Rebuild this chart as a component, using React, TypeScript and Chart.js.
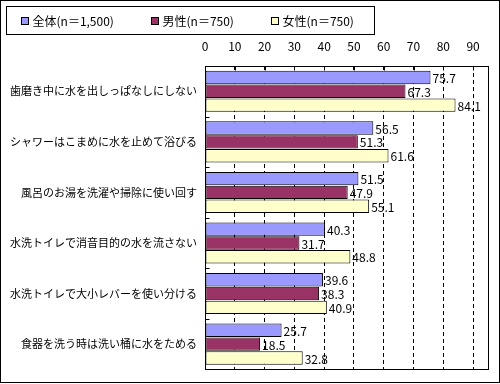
import React, { useEffect, useRef } from "react";
import { Chart, registerables } from "chart.js";
Chart.register(...registerables);

const categories = [
  "歯磨き中に水を出しっぱなしにしない",
  "シャワーはこまめに水を止めて浴びる",
  "風呂のお湯を洗濯や掃除に使い回す",
  "水洗トイレで消音目的の水を流さない",
  "水洗トイレで大小レバーを使い分ける",
  "食器を洗う時は洗い桶に水をためる",
];
const seriesLabels = ["全体(n＝1,500)", "男性(n＝750)", "女性(n＝750)"];
const totalValues = [75.7, 56.5, 51.5, 40.3, 39.6, 25.7];
const maleValues = [67.3, 51.3, 47.9, 31.7, 38.3, 18.5];
const femaleValues = [84.1, 61.6, 55.1, 48.8, 40.9, 32.8];
const seriesColors = ["#9999FF", "#993366", "#FFFFCC"];
const axisMax = 95;
const tickStep = 10;

const FONT = "'Noto Sans CJK JP', 'Noto Sans', sans-serif";

const framePlugin = {
  id: "framePlugin",
  afterDatasetsDraw(chart: any) {
    const ctx = chart.ctx;
    ctx.save();
    ctx.font = `12px ${FONT}`;
    ctx.fillStyle = "#000";
    ctx.textBaseline = "middle";
    ctx.textAlign = "left";
    chart.data.datasets.forEach((ds: any, di: number) => {
      const meta = chart.getDatasetMeta(di);
      meta.data.forEach((bar: any, i: number) => {
        ctx.fillText(ds.data[i].toFixed(1), bar.x + 2, bar.y + 1);
      });
    });
    ctx.restore();
  },
  afterDraw(chart: any) {
    const ctx = chart.ctx;
    const area = chart.chartArea;
    ctx.save();
    ctx.strokeStyle = "#000";
    ctx.lineWidth = 1;
    ctx.setLineDash([]);
    const l = Math.round(area.left) + 0.5;
    const t = Math.round(area.top) + 0.5;
    const r = Math.round(area.right) + 0.5;
    const b = Math.round(area.bottom) + 0.5;
    ctx.strokeRect(l, t, r - l, b - t);
    const xs = chart.scales.x;
    ctx.beginPath();
    xs.ticks.forEach((tk: any) => {
      const px = Math.round(xs.getPixelForValue(tk.value)) + 0.5;
      ctx.moveTo(px, t);
      ctx.lineTo(px, t + 4);
    });
    const n = categories.length;
    for (let i = 1; i < n; i++) {
      const py = Math.round(area.top + ((area.bottom - area.top) * i) / n) + 0.5;
      ctx.moveTo(l, py);
      ctx.lineTo(l + 4, py);
    }
    ctx.stroke();
    ctx.strokeRect(0.5, 0.5, 499, 382);
    ctx.strokeRect(6.5, 6.5, 368, 28);
    const itemX = [21.5, 151.5, 271.5];
    ctx.font = `12px ${FONT}`;
    ctx.textBaseline = "middle";
    ctx.textAlign = "left";
    chart.data.datasets.forEach((ds: any, i: number) => {
      ctx.fillStyle = ds.backgroundColor;
      ctx.fillRect(itemX[i], 17.5, 7, 7);
      ctx.strokeRect(itemX[i], 17.5, 7, 7);
      ctx.fillStyle = "#000";
      ctx.fillText(ds.label, itemX[i] + 11, 21.5);
    });
    ctx.restore();
  },
};

export default function App() {
  const ref = useRef<HTMLCanvasElement | null>(null);
  useEffect(() => {
    if (!ref.current) return;
    const chart = new Chart(ref.current, {
      type: "bar",
      data: {
        labels: categories,
        datasets: [
          { label: seriesLabels[0], data: totalValues, backgroundColor: seriesColors[0] },
          { label: seriesLabels[1], data: maleValues, backgroundColor: seriesColors[1] },
          { label: seriesLabels[2], data: femaleValues, backgroundColor: seriesColors[2] },
        ].map((d) => ({
          ...d,
          borderColor: "#000",
          borderWidth: 1,
          borderSkipped: false,
          categoryPercentage: 0.82,
          barPercentage: 0.97,
        })),
      },
      options: {
        indexAxis: "y",
        responsive: false,
        animation: false,
        devicePixelRatio: 1,
        layout: { padding: { left: 0, right: 12, top: 0, bottom: 5 } },
        plugins: {
          legend: { display: false },
          tooltip: { enabled: false },
        },
        scales: {
          x: {
            position: "top",
            min: 0,
            max: axisMax,
            border: { display: false, dash: [4, 3] },
            grid: {
              drawTicks: false,
              color: (c: any) => (c.tick && c.tick.value === 0 ? "rgba(0,0,0,0)" : "#000"),
              lineWidth: 1,
            },
            ticks: {
              stepSize: tickStep,
              includeBounds: false,
              padding: 12,
              color: "#000",
              font: { family: FONT, size: 12 },
            },
            afterFit: (s: any) => {
              s.height = 66;
            },
          },
          y: {
            border: { display: false },
            grid: { display: false, drawTicks: false },
            ticks: {
              padding: 8,
              color: "#000",
              font: { family: FONT, size: 11 },
            },
            afterFit: (s: any) => {
              s.width = 205;
            },
          },
        },
      },
      plugins: [framePlugin],
    } as any);
    return () => chart.destroy();
  }, []);
  return (
    <div style={{ position: "absolute", left: 0, top: 0, width: 500, height: 384, background: "#fff" }}>
      <canvas ref={ref} width={500} height={384} />
    </div>
  );
}
